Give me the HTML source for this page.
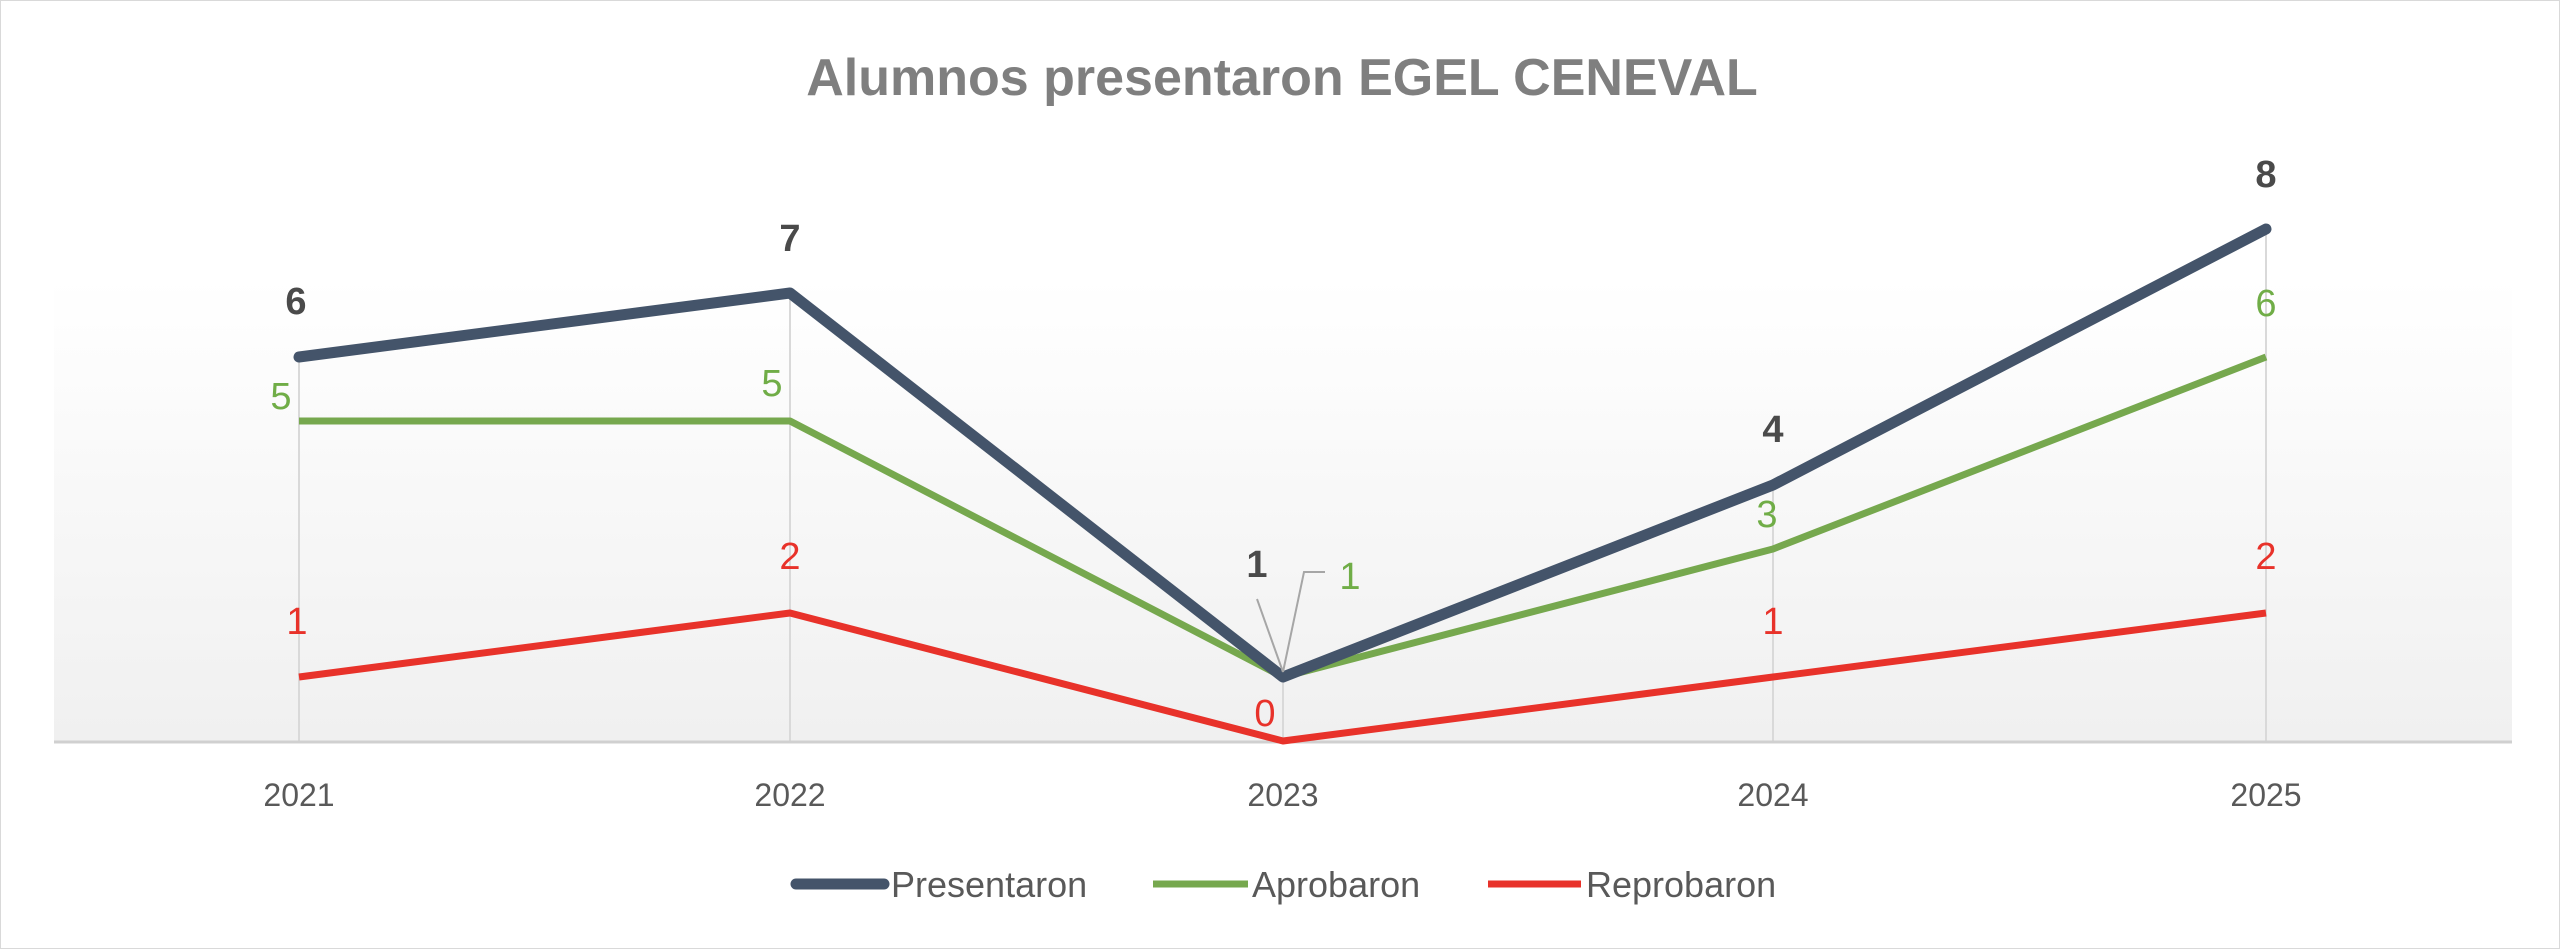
<!DOCTYPE html>
<html><head><meta charset="utf-8"><style>
html,body{margin:0;padding:0;background:#fff}
svg{display:block}
text{font-family:"Liberation Sans",sans-serif}
</style></head><body>
<svg width="2560" height="949" viewBox="0 0 2560 949" xmlns="http://www.w3.org/2000/svg">
<defs>
<linearGradient id="bg" x1="0" y1="0" x2="0" y2="1">
<stop offset="0" stop-color="#ffffff"/>
<stop offset="1" stop-color="#f0f0f0"/>
</linearGradient>
</defs>
<rect x="0.5" y="0.5" width="2559" height="948" fill="#fff" stroke="#d9d9d9"/>
<rect x="54" y="278" width="2458" height="463" fill="url(#bg)"/>
<text x="1282" y="95" text-anchor="middle" font-size="52" font-weight="bold" fill="#7f7f7f">Alumnos presentaron EGEL CENEVAL</text>
<g stroke="#d9d9d9" stroke-width="2">
<line x1="299" y1="741" x2="299" y2="357"/>
<line x1="790" y1="741" x2="790" y2="293"/>
<line x1="1283" y1="741" x2="1283" y2="677"/>
<line x1="1773" y1="741" x2="1773" y2="485"/>
<line x1="2266" y1="741" x2="2266" y2="229"/>
</g>
<line x1="54" y1="742" x2="2512" y2="742" stroke="#d0d0d0" stroke-width="3"/>
<polyline points="299,677 790,613 1283,741 1773,677 2266,613" fill="none" stroke="#e8322a" stroke-width="7" stroke-linejoin="round"/>
<polyline points="299,421 790,421 1283,677 1773,549 2266,357" fill="none" stroke="#76a84e" stroke-width="7" stroke-linejoin="round"/>
<polyline points="299,357 790,293 1283,677 1773,485 2266,229" fill="none" stroke="#44546a" stroke-width="11" stroke-linejoin="round" stroke-linecap="round"/>
<g stroke="#a6a6a6" stroke-width="2" fill="none">
<polyline points="1257,599 1283,672"/>
<polyline points="1283,672 1304,572 1325,572"/>
</g>
<g font-size="38" font-weight="bold" fill="#4a4a4a" text-anchor="middle">
<text x="296" y="314">6</text>
<text x="790" y="251">7</text>
<text x="1257" y="577">1</text>
<text x="1773" y="442">4</text>
<text x="2266" y="187">8</text>
</g>
<g font-size="38" fill="#70ad47" text-anchor="middle">
<text x="281" y="409">5</text>
<text x="772" y="396">5</text>
<text x="1350" y="589">1</text>
<text x="1767" y="527">3</text>
<text x="2266" y="316">6</text>
</g>
<g font-size="38" fill="#e8322a" text-anchor="middle">
<text x="297" y="634">1</text>
<text x="790" y="569">2</text>
<text x="1265" y="726">0</text>
<text x="1773" y="634">1</text>
<text x="2266" y="569">2</text>
</g>
<g font-size="32" fill="#595959" text-anchor="middle">
<text x="299" y="806">2021</text>
<text x="790" y="806">2022</text>
<text x="1283" y="806">2023</text>
<text x="1773" y="806">2024</text>
<text x="2266" y="806">2025</text>
</g>
<line x1="796" y1="884" x2="884" y2="884" stroke="#44546a" stroke-width="11" stroke-linecap="round"/>
<line x1="1153" y1="884" x2="1248" y2="884" stroke="#76a84e" stroke-width="7"/>
<line x1="1488" y1="884" x2="1581" y2="884" stroke="#e8322a" stroke-width="7"/>
<g font-size="36" fill="#595959">
<text x="891" y="897">Presentaron</text>
<text x="1252" y="897">Aprobaron</text>
<text x="1586" y="897">Reprobaron</text>
</g>
</svg>
</body></html>
